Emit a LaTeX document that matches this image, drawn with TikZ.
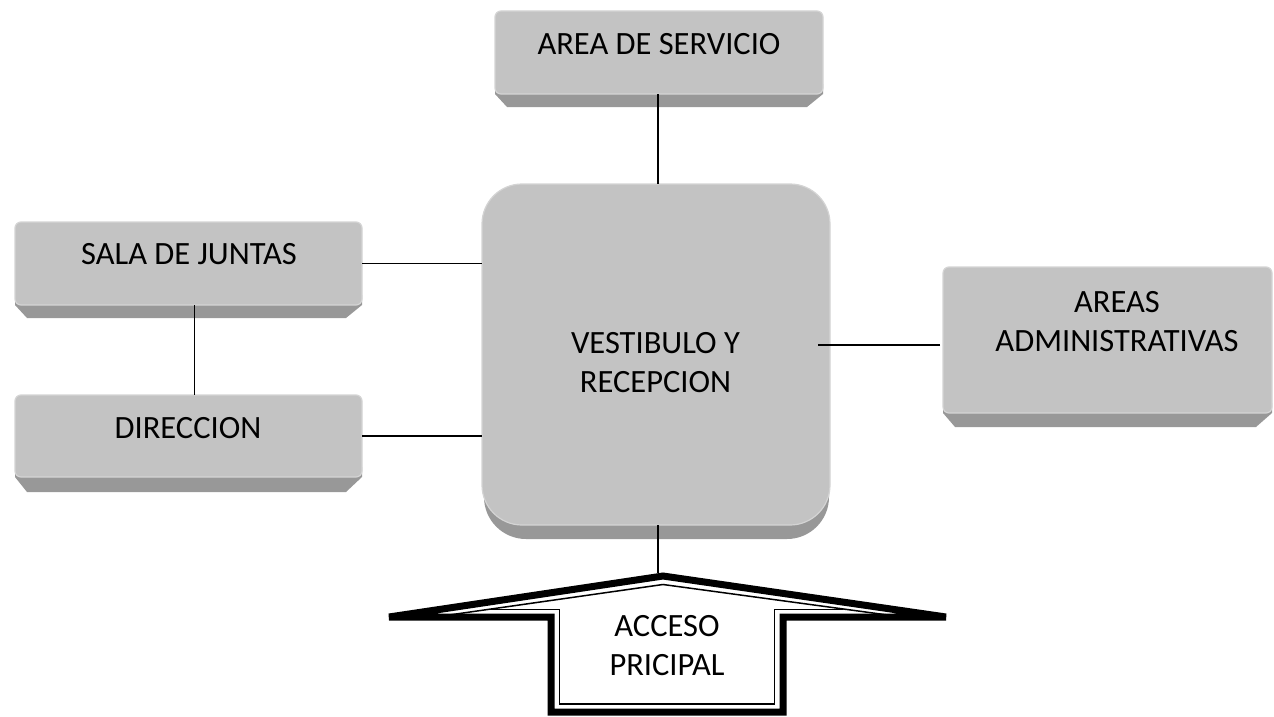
\documentclass[tikz,border=0pt]{standalone}
\usepackage{fontspec}
\setmainfont{Carlito}
\usetikzlibrary{calc}
\definecolor{face}{RGB}{195,195,195}
\definecolor{band}{RGB}{152,152,152}
\definecolor{rim}{RGB}{212,212,212}
\tikzset{
  boxface/.style={rectangle, fill=face, draw=rim, line width=1.2pt, rounded corners=6pt, inner sep=0pt, outer sep=0pt},
  lbl/.style={font=\fontsize{32.5}{39}\selectfont, inner sep=0pt, align=center, text=black},
  link/.style={line width=1.4pt, black},
  thickline/.style={line width=7pt, black, line join=miter},
  thinline/.style={line width=1.5pt, black},
}
\newcommand\bevelbox[6]{%
  \fill[band] ({#2},{#5-10}) -- ({#4},{#5-10}) -- ({#4},{#5}) -- ({#4-16},{#6}) -- ({#2+12},{#6}) -- ({#2},{#5}) -- cycle;
  \node[boxface, minimum width={#4-#2}, minimum height={#5-#3}] (#1) at ({(#2+#4)/2},{(#3+#5)/2}) {};
}
\begin{document}
\begin{tikzpicture}[x=1pt,y=-1pt]
\useasboundingbox (0,0) rectangle (1274,717);
\fill[white] (0,0) rectangle (1274,717);

% boxes
\bevelbox{serv}{495}{11}{823}{94}{107}
\bevelbox{sala}{15}{222}{362}{305}{318}
\bevelbox{dir}{15}{395}{362}{477}{492}
\bevelbox{admin}{943}{267}{1272}{413}{427}

% central box
\fill[band, rounded corners=42pt] (484,205) rectangle (829,539);
\node[boxface, rounded corners=40pt, minimum width=348, minimum height=341] (vest) at (656,354.5) {};

% labels
\node[lbl, anchor=base] (serv-t) at (659,55) {AREA DE SERVICIO};
\node[lbl, anchor=base] (sala-t) at (189,264) {SALA DE JUNTAS};
\node[lbl, anchor=base] (dir-t) at (188,438) {DIRECCION};
\node[lbl] (vest-t) at (655.5,362.5) {VESTIBULO Y\\RECEPCION};
\node[lbl] (admin-t) at (1117,321.5) {AREAS\\ADMINISTRATIVAS};

% connectors
\draw[link] (serv.south -| 658,0) -- (vest.north -| 658,0);
\draw[link] (sala.east) -- (sala.east -| vest.west);
\draw[link] (dir.east) -- (dir.east -| vest.west);
\draw[link] ($(sala.south)+(6,0)$) -- ($(dir.north)+(6,0)$);
\draw[link] ($(admin.west)+(-3,5)$) -- ($(vest.east |- admin.west)+(-12,5)$);

% entrance arrow
\coordinate (peak) at (663,576);
\draw[link] (vest.south -| 658,0) -- (658,573);
\draw[thickline] (389,617) -- (peak) -- (946,617) -- (783,617) -- (783,712) -- (551,712) -- (551,617) -- cycle;
\draw[thinline] (442,616) -- ($(peak)+(0,8.5)$) -- (895,616);
\draw[thinline] (489,609.5) -- (559.5,609.5) -- (559.5,704) -- (774.5,704) -- (774.5,609.5) -- (843,609.5);
\node[lbl] (acceso) at (667,645.5) {ACCESO\\PRICIPAL};
\end{tikzpicture}
\end{document}
